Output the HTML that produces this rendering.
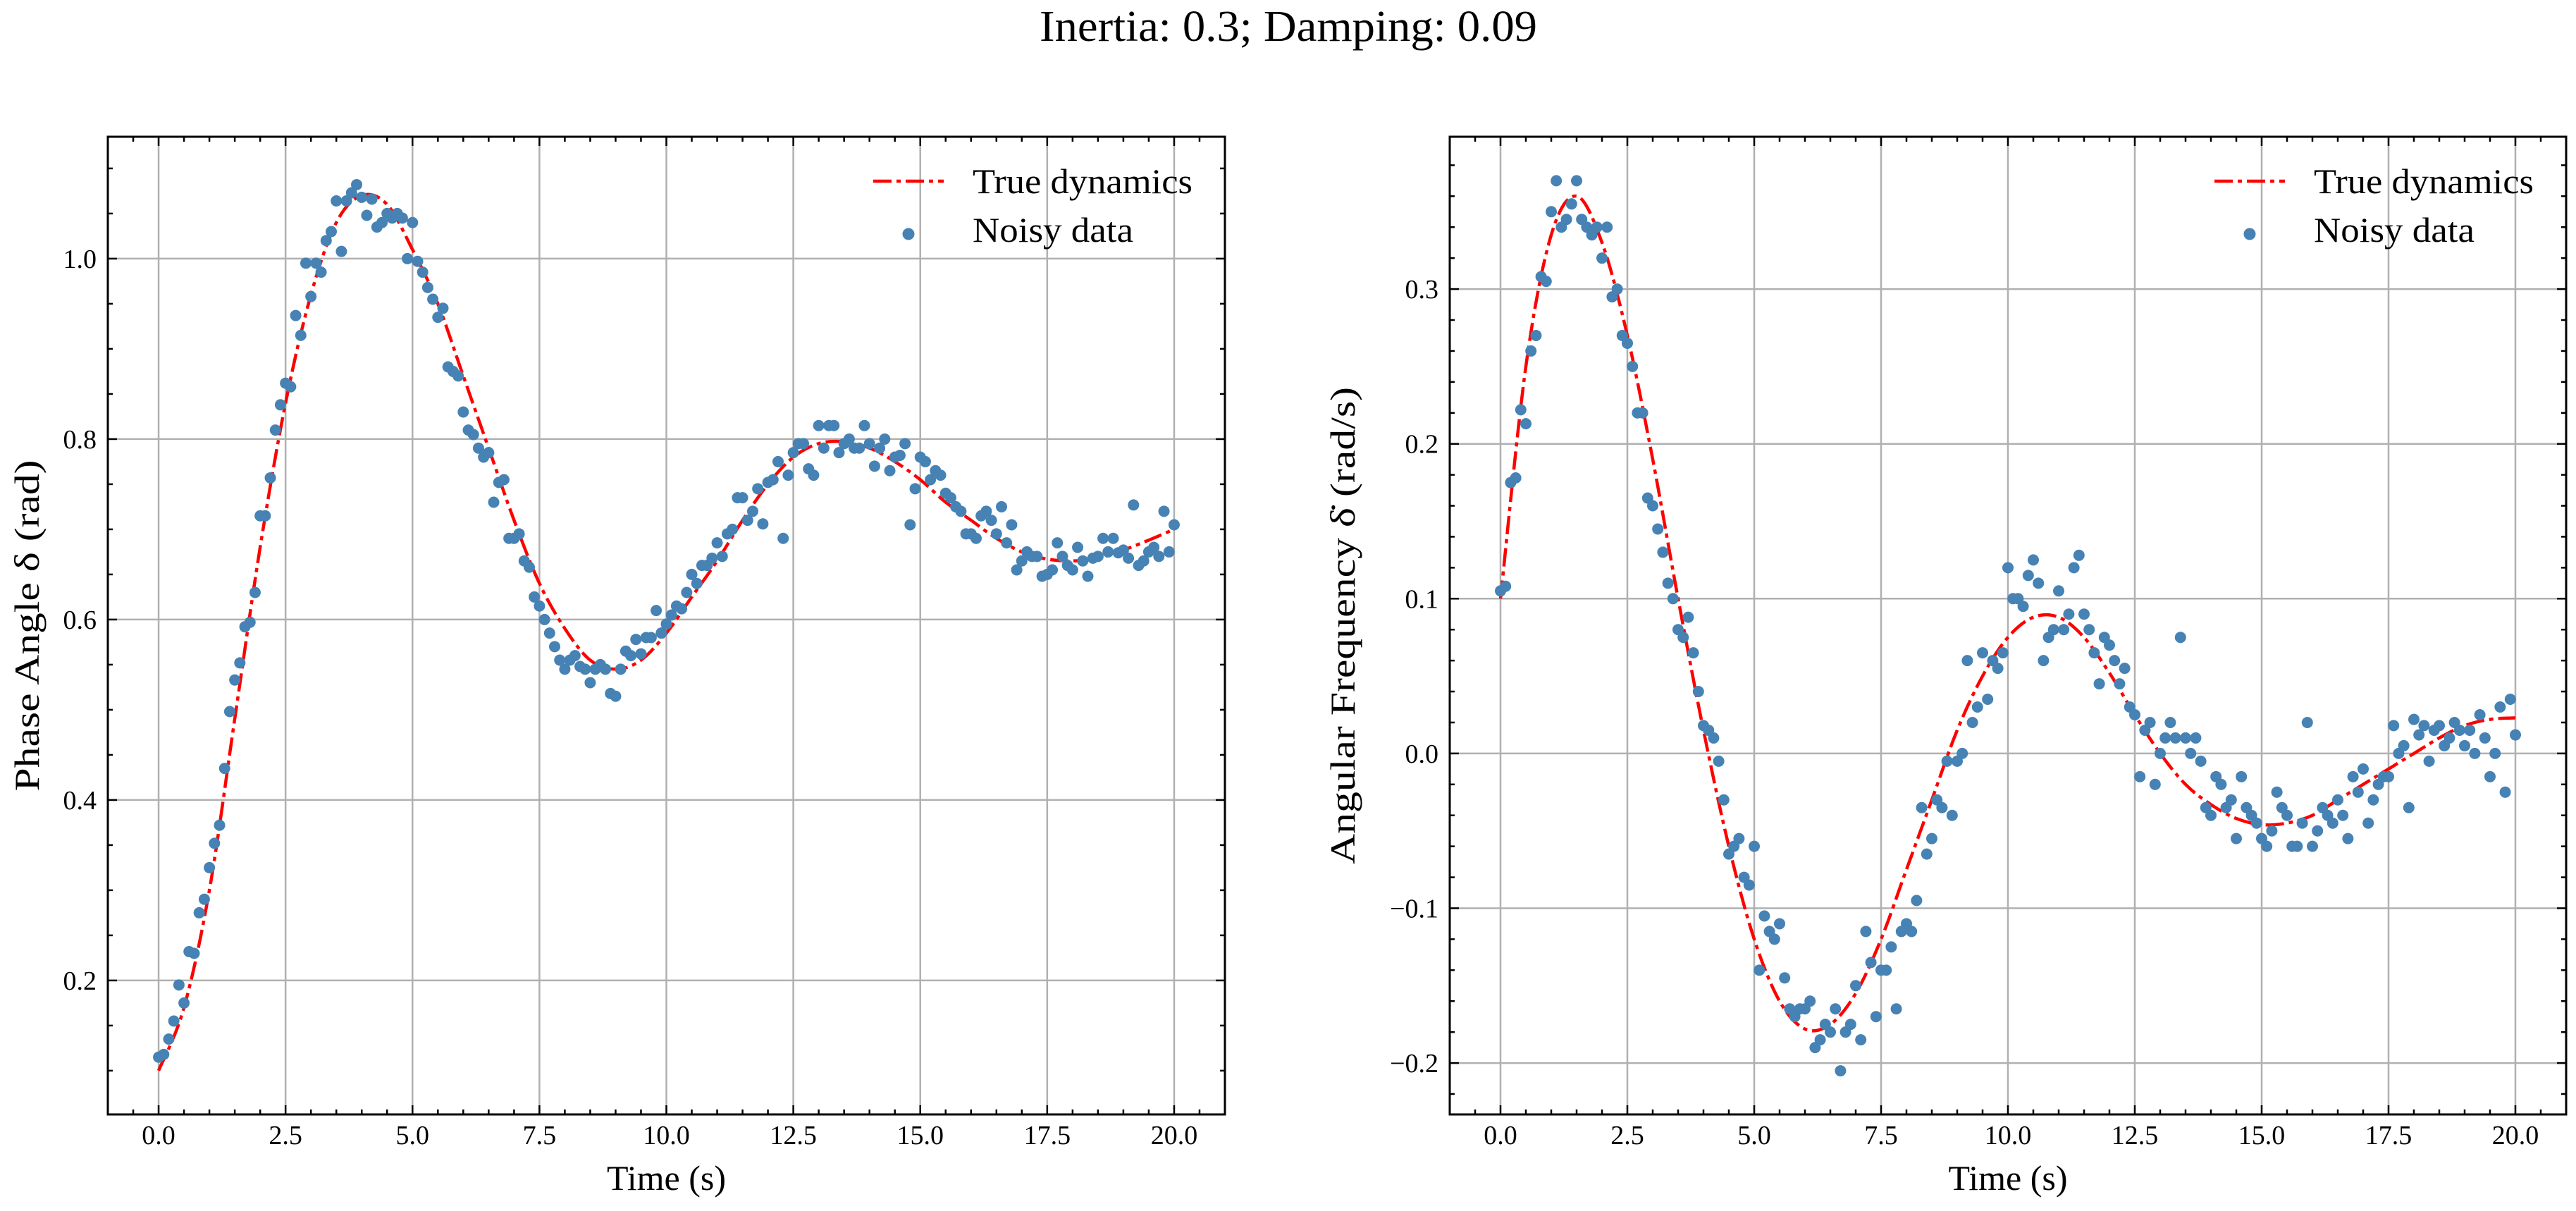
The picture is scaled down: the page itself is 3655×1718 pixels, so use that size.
<!DOCTYPE html>
<html><head><meta charset="utf-8"><title>Inertia 0.3 Damping 0.09</title>
<style>
html,body{margin:0;padding:0;background:#fff;}
svg{display:block;font-family:"Liberation Serif","DejaVu Serif",serif;}
</style></head>
<body>
<svg id="fig" width="3655" height="1718" viewBox="0 0 3655 1718" xmlns="http://www.w3.org/2000/svg">
<rect x="0" y="0" width="3655" height="1718" fill="#fff"/>
<text x="1828" y="58" font-size="62" text-anchor="middle" textLength="706" lengthAdjust="spacingAndGlyphs">Inertia: 0.3; Damping: 0.09</text>
<g id="left"></g>
<g id="right"></g>
</svg>
<script>
const timeStep = 0.1;
const curveStep = 0.5;
const phaseTrue = [0.10,0.17,0.30,0.49,0.68,0.84,0.96,1.04,1.07,1.06,1.01,0.95,0.87,0.79,0.71,0.64,0.59,0.555,0.545,0.555,0.585,0.625,0.665,0.71,0.75,0.78,0.795,0.797,0.79,0.775,0.755,0.73,0.71,0.69,0.675,0.667,0.665,0.668,0.677,0.688,0.70];
const phaseNoisy = [0.115,0.118,0.135,0.155,0.195,0.175,0.232,0.23,0.275,0.29,
0.325,0.352,0.372,0.435,0.498,0.533,0.552,0.592,0.597,0.63,
0.715,0.715,0.757,0.81,0.838,0.862,0.858,0.937,0.915,0.995,
0.958,0.995,0.985,1.02,1.03,1.064,1.008,1.064,1.073,1.082,
1.068,1.048,1.066,1.035,1.04,1.05,1.045,1.05,1.045,1.0,
1.04,0.997,0.985,0.968,0.955,0.935,0.945,0.88,0.875,0.87,
0.83,0.81,0.805,0.79,0.78,0.785,0.73,0.752,0.755,0.69,
0.69,0.695,0.665,0.658,0.625,0.615,0.60,0.585,0.57,0.555,
0.545,0.555,0.56,0.548,0.545,0.53,0.545,0.55,0.545,0.518,
0.515,0.545,0.565,0.56,0.578,0.562,0.58,0.58,0.61,0.585,
0.595,0.605,0.615,0.612,0.63,0.65,0.64,0.66,0.66,0.668,
0.685,0.67,0.695,0.70,0.735,0.735,0.71,0.72,0.745,0.706,
0.752,0.755,0.775,0.69,0.76,0.785,0.795,0.795,0.767,0.76,
0.815,0.79,0.815,0.815,0.785,0.795,0.8,0.79,0.79,0.815,
0.795,0.77,0.79,0.8,0.765,0.78,0.782,0.795,0.705,0.745,
0.78,0.775,0.755,0.765,0.76,0.74,0.735,0.725,0.72,0.695,
0.695,0.69,0.715,0.72,0.71,0.695,0.725,0.685,0.705,0.655,
0.665,0.675,0.67,0.67,0.648,0.65,0.655,0.685,0.67,0.66,
0.655,0.68,0.665,0.648,0.668,0.67,0.69,0.675,0.69,0.674,
0.677,0.668,0.727,0.66,0.665,0.675,0.68,0.67,0.72,0.675,
0.705];
const freqTrue = [0.10,0.25,0.335,0.36,0.33,0.27,0.19,0.10,0.015,-0.06,-0.12,-0.16,-0.178,-0.175,-0.155,-0.12,-0.075,-0.03,0.015,0.05,0.075,0.088,0.088,0.075,0.052,0.025,0.0,-0.02,-0.033,-0.042,-0.046,-0.045,-0.04,-0.03,-0.02,-0.01,0.0,0.01,0.018,0.022,0.023];
const freqNoisy = [0.105,0.108,0.175,0.178,0.222,0.213,0.26,0.27,0.308,0.305,
0.35,0.37,0.34,0.345,0.355,0.37,0.345,0.34,0.335,0.34,
0.32,0.34,0.295,0.30,0.27,0.265,0.25,0.22,0.22,0.165,
0.16,0.145,0.13,0.11,0.1,0.08,0.075,0.088,0.065,0.04,
0.018,0.015,0.01,-0.005,-0.03,-0.065,-0.06,-0.055,-0.08,-0.085,
-0.06,-0.14,-0.105,-0.115,-0.12,-0.11,-0.145,-0.165,-0.17,-0.165,
-0.165,-0.16,-0.19,-0.185,-0.175,-0.18,-0.165,-0.205,-0.18,-0.175,
-0.15,-0.185,-0.115,-0.135,-0.17,-0.14,-0.14,-0.125,-0.165,-0.115,
-0.11,-0.115,-0.095,-0.035,-0.065,-0.055,-0.03,-0.035,-0.005,-0.04,
-0.005,0.0,0.06,0.02,0.03,0.065,0.035,0.06,0.055,0.065,
0.12,0.1,0.1,0.095,0.115,0.125,0.11,0.06,0.075,0.08,
0.105,0.08,0.09,0.12,0.128,0.09,0.08,0.065,0.045,0.075,
0.07,0.06,0.045,0.055,0.03,0.025,-0.015,0.015,0.02,-0.02,
0.0,0.01,0.02,0.01,0.075,0.01,0.0,0.01,-0.005,-0.035,
-0.04,-0.015,-0.02,-0.035,-0.03,-0.055,-0.015,-0.035,-0.04,-0.045,
-0.055,-0.06,-0.05,-0.025,-0.035,-0.04,-0.06,-0.06,-0.045,0.02,
-0.06,-0.05,-0.035,-0.04,-0.045,-0.03,-0.04,-0.055,-0.015,-0.025,
-0.01,-0.045,-0.03,-0.02,-0.015,-0.015,0.018,0.0,0.005,-0.035,
0.022,0.012,0.018,-0.005,0.015,0.018,0.005,0.01,0.02,0.015,
0.005,0.015,0.0,0.025,0.01,-0.015,0.0,0.03,-0.025,0.035,
0.012];
const xTicks = [0,2.5,5,7.5,10,12.5,15,17.5,20];
const xTickLabels = ["0.0","2.5","5.0","7.5","10.0","12.5","15.0","17.5","20.0"];
const phaseTicks = [0.2,0.4,0.6,0.8,1.0];
const phaseTickLabels = ["0.2","0.4","0.6","0.8","1.0"];
const freqTicks = [-0.2,-0.1,0.0,0.1,0.2,0.3];
const freqTickLabels = ["\u22120.2","\u22120.1","0.0","0.1","0.2","0.3"];

const NS = "http://www.w3.org/2000/svg";
function mk(parent, tag, attrs){
  const e = document.createElementNS(NS, tag);
  for (const k in attrs) e.setAttribute(k, attrs[k]);
  parent.appendChild(e); return e;
}
function smoothPath(pts){
  let d = "M" + pts[0][0].toFixed(1) + "," + pts[0][1].toFixed(1);
  for (let i=0;i<pts.length-1;i++){
    const p0=pts[Math.max(0,i-1)], p1=pts[i], p2=pts[i+1], p3=pts[Math.min(pts.length-1,i+2)];
    const c1=[p1[0]+(p2[0]-p0[0])/6, p1[1]+(p2[1]-p0[1])/6];
    const c2=[p2[0]-(p3[0]-p1[0])/6, p2[1]-(p3[1]-p1[1])/6];
    d += " C"+c1[0].toFixed(1)+","+c1[1].toFixed(1)+" "+c2[0].toFixed(1)+","+c2[1].toFixed(1)+" "+p2[0].toFixed(1)+","+p2[1].toFixed(1);
  }
  return d;
}
function drawPanel(g, cfg){
  const L=cfg.left, R=cfg.right, T=194, B=1581;
  const sx = v => L + (v - (-1)) / 22 * (R - L);
  const sy = v => B - (v - cfg.ymin) / (cfg.ymax - cfg.ymin) * (B - T);
  // grid
  xTicks.forEach(v=>{
    const ln = mk(g,"line",{x1:sx(v),x2:sx(v),y1:T,y2:B,stroke:"#b0b0b0","stroke-width":2.5});
    
    
  });
  cfg.yticks.forEach(v=>{
    const ln = mk(g,"line",{x1:L,x2:R,y1:sy(v),y2:sy(v),stroke:"#b0b0b0","stroke-width":2.5});
    
    
  });
  // true curve
  const pts = cfg.trueVals.map((v,i)=>[sx(i*curveStep), sy(v)]);
  const path = mk(g,"path",{d:smoothPath(pts),fill:"none",stroke:"#ff0000","stroke-width":4.5,"stroke-dasharray":"26 7 6 7"});
  
  
  // scatter
  cfg.noisy.forEach((v,i)=>{
    const c = mk(g,"circle",{cx:sx(i*timeStep),cy:sy(v),r:8,fill:"#4682b4"});
    
    
  });
  // frame
  const fr = mk(g,"rect",{x:L,y:T,width:R-L,height:B-T,fill:"none",stroke:"#000","stroke-width":3});
  
  
  // x ticks
  for (let k=-2;k<=42;k++){
    const v=k*0.5; const x=sx(v);
    if (x<L-0.5||x>R+0.5) continue;
    const major = (k%5===0); const len = major?13:7;
    mk(g,"line",{x1:x,x2:x,y1:B,y2:B-len,stroke:"#000","stroke-width":2.5});
    mk(g,"line",{x1:x,x2:x,y1:T,y2:T+len,stroke:"#000","stroke-width":2.5});
  }
  xTicks.forEach((v,i)=>{
    const t = mk(g,"text",{x:sx(v),y:1623,"font-size":38,"text-anchor":"middle"});
    t.textContent = xTickLabels[i];
    
    
  });
  // y ticks
  const step = cfg.minorStep;
  const kmin = Math.ceil(cfg.ymin/step-1e-9), kmax=Math.floor(cfg.ymax/step+1e-9);
  for (let k=kmin;k<=kmax;k++){
    const v=k*step; const y=sy(v);
    const major = cfg.yticks.some(t=>Math.abs(t-v)<1e-6); const len = major?13:7;
    mk(g,"line",{x1:L,x2:L+len,y1:y,y2:y,stroke:"#000","stroke-width":2.5});
    mk(g,"line",{x1:R,x2:R-len,y1:y,y2:y,stroke:"#000","stroke-width":2.5});
  }
  cfg.yticks.forEach((v,i)=>{
    const t = mk(g,"text",{x:L-16,y:sy(v)+13,"font-size":38,"text-anchor":"end"});
    t.textContent = cfg.ytickLabels[i];
    
    
  });
  // axis labels
  const xl = mk(g,"text",{x:(L+R)/2,y:1688,"font-size":50,"text-anchor":"middle"});
  xl.textContent = "Time (s)";
  
  
  const yl = mk(g,"text",{x:0,y:0,"font-size":50,"text-anchor":"middle",transform:"translate("+cfg.ylabelX+","+((T+B)/2)+") rotate(-90)",textLength:cfg.ylabelLen,lengthAdjust:"spacingAndGlyphs"});
  yl.textContent = cfg.ylabel;
  
  
  // legend
  const off = R - 1738;
  const lg = mk(g,"g",{});
  
  
  mk(lg,"line",{x1:1239+off,x2:1339+off,y1:257,y2:257,stroke:"#ff0000","stroke-width":4.5,"stroke-dasharray":"26 7 6 7"});
  const t1 = mk(lg,"text",{x:1380+off,y:274,"font-size":50,textLength:312,lengthAdjust:"spacingAndGlyphs"});
  t1.textContent="True dynamics";
  
  
  mk(lg,"circle",{cx:1289+off,cy:332,r:8.5,fill:"#4682b4"});
  const t2 = mk(lg,"text",{x:1380+off,y:343,"font-size":50,textLength:228,lengthAdjust:"spacingAndGlyphs"});
  t2.textContent="Noisy data";
  
  
}
drawPanel(document.getElementById('left'),{left:153,right:1738,ymin:0.0515,ymax:1.1351,yticks:phaseTicks,ytickLabels:phaseTickLabels,minorStep:0.05,trueVals:phaseTrue,noisy:phaseNoisy,ylabel:"Phase Angle \u03b4 (rad)",ylabelX:55,ylabelLen:470});
drawPanel(document.getElementById('right'),{left:2057,right:3641,ymin:-0.2332,ymax:0.3984,yticks:freqTicks,ytickLabels:freqTickLabels,minorStep:0.02,trueVals:freqTrue,noisy:freqNoisy,ylabel:"Angular Frequency \u03b4\u0307 (rad/s)",ylabelX:1922,ylabelLen:677});
</script>
</body></html>
